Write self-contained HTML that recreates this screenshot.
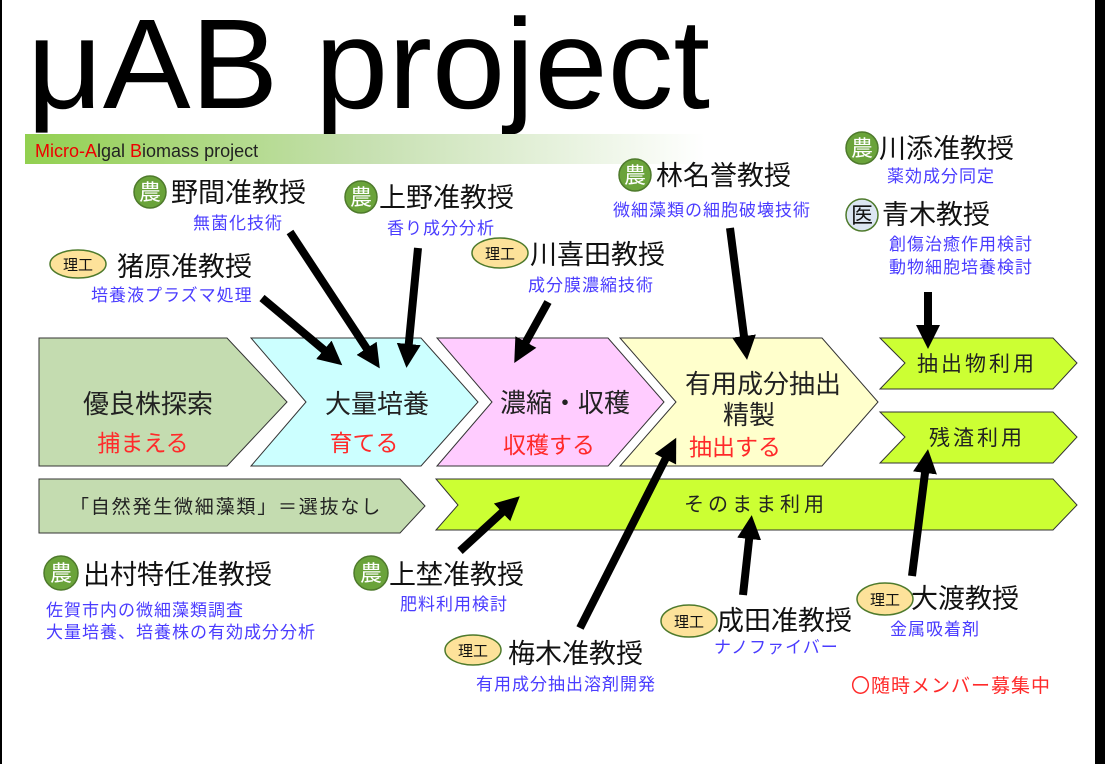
<!DOCTYPE html>
<html><head><meta charset="utf-8"><style>
html,body{margin:0;padding:0;background:#fff;}
svg{display:block;}
text{font-family:"Liberation Sans","Noto Sans CJK JP",sans-serif;}
.nm{font-size:27px;fill:#111;}
.sb{font-size:17px;fill:#4a3cff;letter-spacing:1px;}
.bx{font-size:26px;fill:#222;}
.rd{font-size:23px;fill:#ff2a2a;}
.ic{font-size:15px;fill:#111;}
.nu{font-size:22px;fill:#fff;}
</style></head><body>
<svg width="1105" height="764" viewBox="0 0 1105 764" xmlns="http://www.w3.org/2000/svg">
<defs>
<linearGradient id="g" x1="0" x2="1" y1="0" y2="0">
<stop offset="0" stop-color="#92d050"/><stop offset="0.5" stop-color="#c6e0b0"/><stop offset="1" stop-color="#ffffff"/>
</linearGradient>
<marker id="ah" markerUnits="userSpaceOnUse" markerWidth="26" markerHeight="26" refX="8" refY="12" orient="auto">
<path d="M0,0 L24,12 L0,24 z" fill="#000"/>
</marker>
</defs>
<rect x="0" y="0" width="1105" height="764" fill="#fff"/>
<rect x="0" y="0" width="2" height="764" fill="#000"/>
<rect x="1095" y="0" width="10" height="764" fill="#000"/>

<text x="27" y="108" textLength="683" lengthAdjust="spacingAndGlyphs" style="font-size:128px;fill:#000">μAB project</text>
<rect x="25" y="134" width="680" height="30" fill="url(#g)"/>
<text x="35" y="157" style="font-size:18px;fill:#222"><tspan fill="#e00">Micro-A</tspan>lgal <tspan fill="#e00">B</tspan>iomass project</text>

<g stroke="#333" stroke-width="1">
<polygon points="39,338 227,338 287,402 227,466 39,466" fill="#c4dcb0"/>
<polygon points="251,338 421,338 478,402 421,466 251,466 306,402" fill="#ccffff"/>
<polygon points="437,338 608,338 664,402 608,466 437,466 492,402" fill="#ffccff"/>
<polygon points="620,338 822,338 878,402 822,466 620,466 676,402" fill="#ffffcc"/>
<polygon points="880,338 1053,338 1077,363 1053,389 880,389 905,363" fill="#ccff33"/>
<polygon points="880,412 1053,412 1077,437 1053,463 880,463 905,437" fill="#ccff33"/>
<polygon points="436,479 1053,479 1077,505 1053,530 436,530 458,505" fill="#ccff33"/>
<polygon points="39,479 400,479 425,506 400,533 39,533" fill="#c4dcb0"/>
</g>

<text class="bx" x="148" y="413" text-anchor="middle">優良株探索</text>
<text class="rd" x="143" y="451" text-anchor="middle">捕まえる</text>
<text class="bx" x="377" y="413" text-anchor="middle">大量培養</text>
<text class="rd" x="364" y="451" text-anchor="middle">育てる</text>
<text class="bx" x="565" y="412" text-anchor="middle">濃縮・収穫</text>
<text class="rd" x="549" y="453" text-anchor="middle">収穫する</text>
<text class="bx" x="763" y="393" text-anchor="middle">有用成分抽出</text>
<text class="bx" x="749" y="424" text-anchor="middle">精製</text>
<text class="rd" x="735" y="455" text-anchor="middle">抽出する</text>
<text x="977" y="371" text-anchor="middle" style="font-size:21px;fill:#222;letter-spacing:3px">抽出物利用</text>
<text x="977" y="445" text-anchor="middle" style="font-size:21px;fill:#222;letter-spacing:3px">残渣利用</text>
<text x="756" y="511" text-anchor="middle" style="font-size:20px;fill:#222;letter-spacing:4px">そのまま利用</text>
<text x="70" y="513" style="font-size:19px;fill:#222;letter-spacing:1.8px">「自然発生微細藻類」＝選抜なし</text>

<g stroke="#4e7a2c" stroke-width="1.5">
<circle cx="150" cy="192" r="16" fill="#6aa33a"/>
<circle cx="361" cy="197" r="16" fill="#6aa33a"/>
<circle cx="635" cy="175" r="16" fill="#6aa33a"/>
<circle cx="862" cy="148" r="16" fill="#6aa33a"/>
<circle cx="862" cy="215" r="16" fill="#dce6f2"/>
<circle cx="61" cy="573" r="17" fill="#6aa33a"/>
<circle cx="371" cy="573" r="17" fill="#6aa33a"/>
<ellipse cx="78" cy="264" rx="28" ry="14" fill="#fde29a"/>
<ellipse cx="500" cy="253" rx="28" ry="15" fill="#fde29a"/>
<ellipse cx="473" cy="650" rx="28" ry="15" fill="#fde29a"/>
<ellipse cx="689" cy="621" rx="28" ry="16" fill="#fde29a"/>
<ellipse cx="885" cy="599" rx="28" ry="16" fill="#fde29a"/>
</g>
<text class="nu" x="150" y="200" text-anchor="middle">農</text>
<text class="nu" x="361" y="205" text-anchor="middle">農</text>
<text class="nu" x="635" y="183" text-anchor="middle">農</text>
<text class="nu" x="862" y="156" text-anchor="middle">農</text>
<text x="862" y="223" text-anchor="middle" style="font-size:22px;fill:#111">医</text>
<text class="nu" x="61" y="581" text-anchor="middle">農</text>
<text class="nu" x="371" y="581" text-anchor="middle">農</text>
<text class="ic" x="78" y="270" text-anchor="middle">理工</text>
<text class="ic" x="500" y="259" text-anchor="middle">理工</text>
<text class="ic" x="473" y="656" text-anchor="middle">理工</text>
<text class="ic" x="689" y="627" text-anchor="middle">理工</text>
<text class="ic" x="885" y="605" text-anchor="middle">理工</text>

<text class="nm" x="171" y="202">野間准教授</text>
<text class="sb" x="193" y="229">無菌化技術</text>
<text class="nm" x="379" y="207">上野准教授</text>
<text class="sb" x="387" y="234">香り成分分析</text>
<text class="nm" x="117" y="276">猪原准教授</text>
<text class="sb" x="91" y="301">培養液プラズマ処理</text>
<text class="nm" x="530" y="264">川喜田教授</text>
<text class="sb" x="528" y="291">成分膜濃縮技術</text>
<text class="nm" x="656" y="185">林名誉教授</text>
<text class="sb" x="613" y="216">微細藻類の細胞破壊技術</text>
<text class="nm" x="879" y="158">川添准教授</text>
<text class="sb" x="887" y="182">薬効成分同定</text>
<text class="nm" x="882" y="224">青木教授</text>
<text class="sb" x="889" y="250">創傷治癒作用検討</text>
<text class="sb" x="889" y="273">動物細胞培養検討</text>
<text class="nm" x="83" y="584">出村特任准教授</text>
<text class="sb" x="46" y="616">佐賀市内の微細藻類調査</text>
<text class="sb" x="46" y="638">大量培養、培養株の有効成分分析</text>
<text class="nm" x="389" y="584">上埜准教授</text>
<text class="sb" x="400" y="610">肥料利用検討</text>
<text class="nm" x="508" y="663">梅木准教授</text>
<text class="sb" x="476" y="690">有用成分抽出溶剤開発</text>
<text class="nm" x="717" y="630">成田准教授</text>
<text class="sb" x="714" y="653">ナノファイバー</text>
<text class="nm" x="911" y="608">大渡教授</text>
<text class="sb" x="890" y="635">金属吸着剤</text>
<text x="851" y="692" style="font-size:19px;fill:#ff2a2a;letter-spacing:1px">〇随時メンバー募集中</text>

<g stroke="#000" stroke-width="8" marker-end="url(#ah)">
<line x1="262" y1="298" x2="330" y2="355"/>
<line x1="290" y1="232" x2="371" y2="355"/>
<line x1="418" y1="248" x2="408" y2="352"/>
<line x1="548" y1="302" x2="522" y2="349"/>
<line x1="730" y1="228" x2="745" y2="344"/>
<line x1="928" y1="292" x2="928" y2="333"/>
<line x1="460" y1="551" x2="508" y2="507"/>
<line x1="580" y1="628" x2="669" y2="452"/>
<line x1="743" y1="595" x2="750" y2="531"/>
<line x1="912" y1="576" x2="926" y2="465"/>
</g>
</svg>
</body></html>
